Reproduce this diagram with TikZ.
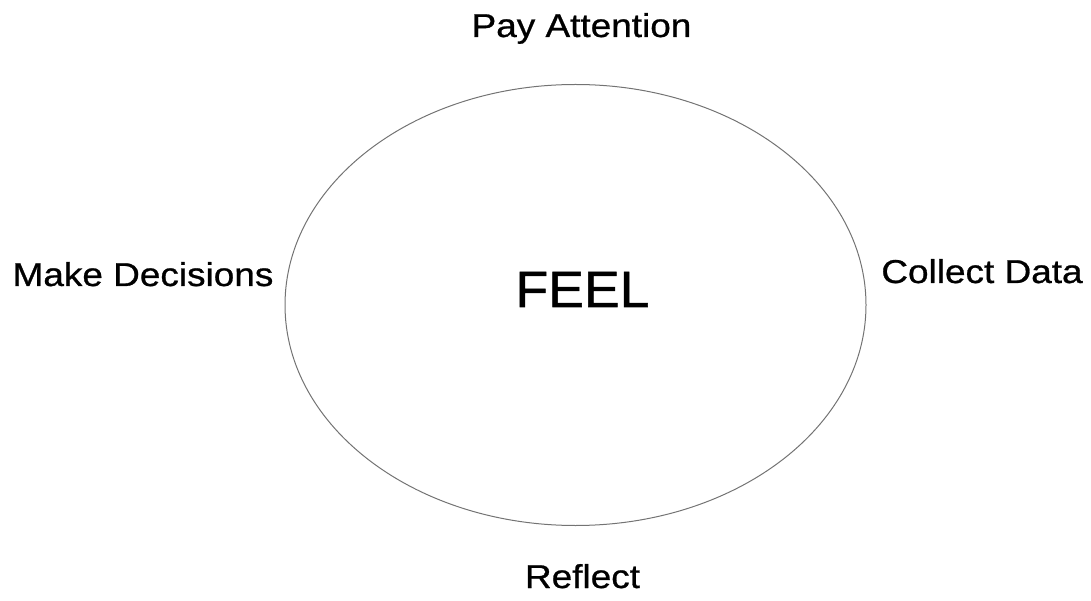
\documentclass[tikz,border=0pt]{standalone}
\usepackage{fontspec}
\setmainfont[FakeStretch=1.12,FakeBold=0.8]{Liberation Sans}
\newfontfamily\feelfont[FakeStretch=1.05,FakeBold=1]{Liberation Sans}
\usetikzlibrary{shapes.geometric}
\tikzset{
  lbl/.style={anchor=base, inner sep=0pt, font=\fontsize{33}{39}\selectfont},
  ring/.style={ellipse, draw=black!55, line width=1pt, inner sep=0pt,
    minimum width=581pt, minimum height=441pt},
  centre/.style={anchor=base, inner sep=0pt, font=\feelfont\fontsize{51}{60}\selectfont}
}
\begin{document}
\begin{tikzpicture}[x=1pt,y=1pt]
\useasboundingbox (0,0) rectangle (1091,600);
\node[ring] (cycle) at (575.5,295) {};
\node[centre] (feel) at (582.5,293) {FEEL};
\node[lbl] (pay) at (581.5,563) {Pay Attention};
\node[lbl] (make) at (143,314) {Make Decisions};
\node[lbl] (collect) at (982,317) {Collect Data};
\node[lbl] (reflect) at (582.5,12) {Reflect};
\end{tikzpicture}
\end{document}
